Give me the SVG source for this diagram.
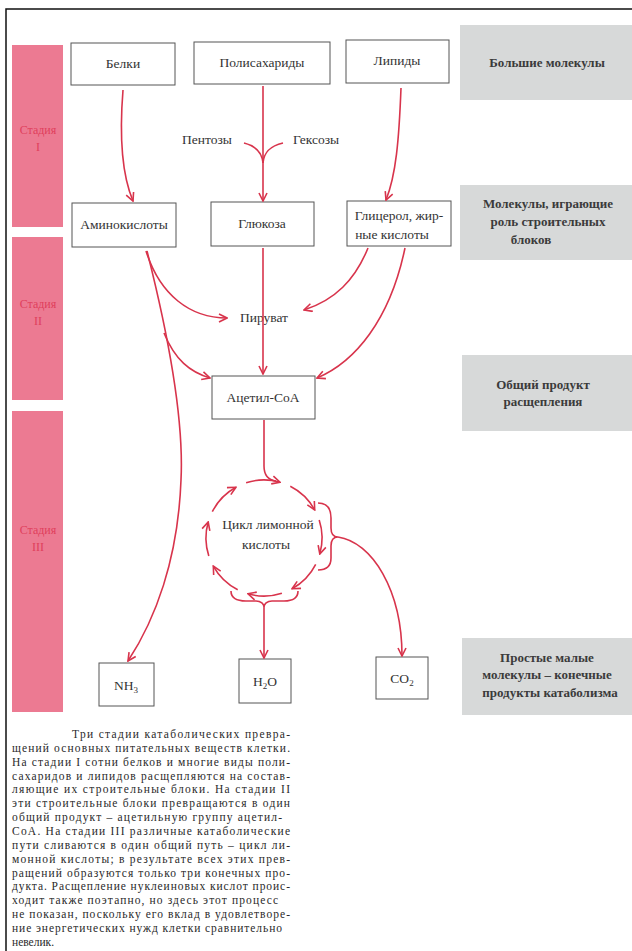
<svg xmlns="http://www.w3.org/2000/svg" width="632" height="951" viewBox="0 0 632 951">
<style>
.box{fill:#fff;stroke:#555;stroke-width:1}
.lbl{font-family:"Liberation Serif","DejaVu Serif",serif;font-size:13.5px;fill:#333;text-anchor:middle}
.sub{font-size:9px}
.pnl{fill:#d7d9d9}
.ptx{font-family:"Liberation Serif","DejaVu Serif",serif;font-size:13px;font-weight:bold;fill:#3b3b3b;text-anchor:middle}
.bar{fill:#ec7a92}
.btx{font-family:"Liberation Serif","DejaVu Serif",serif;font-size:12px;fill:#e0405c;text-anchor:middle}
.cn{fill:none;stroke:#d8344c;stroke-width:1.6}
.cap{font-family:"Liberation Serif","DejaVu Serif",serif;font-size:11.5px;fill:#2a2a2a}
</style>
<defs>
<marker id="ah" viewBox="0 0 10 10" refX="9" refY="5" markerWidth="10" markerHeight="10" markerUnits="userSpaceOnUse" orient="auto">
<path d="M1,1 L9,5 L1,9" fill="none" stroke="#d8344c" stroke-width="1.6"/>
</marker>
</defs>
<rect x="0" y="0" width="632" height="951" fill="#fff"/>
<path d="M6,951 L6,9 L632,9" fill="none" stroke="#111" stroke-width="1.5"/>

<g id="stage1"><rect class="bar" x="12" y="45" width="51" height="182"/><text class="btx" x="38" y="134">Стадия</text><text class="btx" x="38" y="151">I</text></g>
<g id="stage2"><rect class="bar" x="12" y="237" width="51" height="163"/><text class="btx" x="38" y="308">Стадия</text><text class="btx" x="38" y="325">II</text></g>
<g id="stage3"><rect class="bar" x="12" y="411" width="51" height="301"/><text class="btx" x="38" y="534">Стадия</text><text class="btx" x="38" y="551">III</text></g>

<g id="panel1"><rect class="pnl" x="460" y="25" width="172" height="75"/><text class="ptx" x="547" y="67">Большие молекулы</text></g>
<g id="panel2"><rect class="pnl" x="460" y="185" width="172" height="75"/><text class="ptx" x="548" y="208">Молекулы, играющие</text><text class="ptx" x="548" y="226">роль строительных</text><text class="ptx" x="531" y="244">блоков</text></g>
<g id="panel3"><rect class="pnl" x="462" y="355" width="170" height="76"/><text class="ptx" x="543" y="389">Общий продукт</text><text class="ptx" x="543" y="406">расщепления</text></g>
<g id="panel4"><rect class="pnl" x="462" y="638" width="170" height="77"/><text class="ptx" x="547" y="662">Простые малые</text><text class="ptx" x="547" y="679">молекулы – конечные</text><text class="ptx" x="550" y="697">продукты катаболизма</text></g>

<g id="belki"><rect class="box" x="71" y="43" width="104" height="42"/><text class="lbl" x="123" y="68">Белки</text></g>
<g id="polysacch"><rect class="box" x="194" y="42" width="136" height="42"/><text class="lbl" x="262" y="67">Полисахариды</text></g>
<g id="lipidy"><rect class="box" x="346" y="40" width="103" height="43"/><text class="lbl" x="397" y="65">Липиды</text></g>
<g id="amino"><rect class="box" x="72" y="203" width="104" height="44"/><text class="lbl" x="124" y="229">Аминокислоты</text></g>
<g id="glucose"><rect class="box" x="211" y="202" width="103" height="44"/><text class="lbl" x="262" y="228">Глюкоза</text></g>
<g id="glycerol"><rect class="box" x="347" y="201" width="104" height="45"/><text class="lbl" x="399" y="220">Глицерол, жир-</text><text class="lbl" x="392" y="239">ные кислоты</text></g>
<g id="pentozy"><text class="lbl" x="207" y="144">Пентозы</text></g>
<g id="geksozy"><text class="lbl" x="316" y="144">Гексозы</text></g>
<g id="piruvat"><text class="lbl" x="264" y="322">Пируват</text></g>
<g id="acetyl"><rect class="box" x="212" y="376" width="103" height="43"/><text class="lbl" x="263" y="402">Ацетил-СоА</text></g>
<g id="cycle"><text class="lbl" x="268" y="529">Цикл лимонной</text><text class="lbl" x="266" y="549">кислоты</text></g>
<g id="nh3"><rect class="box" x="99" y="663" width="55" height="43"/><text class="lbl" x="126" y="690">NH<tspan class="sub" dy="3">3</tspan></text></g>
<g id="h2o"><rect class="box" x="239" y="659" width="52" height="44"/><text class="lbl" x="265" y="686">H<tspan class="sub" dy="3">2</tspan><tspan dy="-3">O</tspan></text></g>
<g id="co2"><rect class="box" x="376" y="657" width="52" height="42"/><text class="lbl" x="402" y="683">CO<tspan class="sub" dy="3">2</tspan></text></g>

<g id="connectors">
<path class="cn" d="M123,90 C119,140 122,175 133,201" marker-end="url(#ah)"/>
<path class="cn" d="M263,86 L263,201" marker-end="url(#ah)"/>
<path class="cn" d="M244,143 C256,146 262,152 263,163"/>
<path class="cn" d="M283,143 C270,146 264,152 263,163"/>
<path class="cn" d="M401,88 C399,140 396,175 386,200" marker-end="url(#ah)"/>
<path class="cn" d="M146,251 C160,295 190,318 227,318" marker-end="url(#ah)"/>
<path class="cn" d="M147,251 C167,330 184,420 181,480 C178,560 155,620 128,661" marker-end="url(#ah)"/>
<path class="cn" d="M164,333 C175,360 190,372 210,378" marker-end="url(#ah)"/>
<path class="cn" d="M263,248 L263,374" marker-end="url(#ah)"/>
<path class="cn" d="M368,248 C355,280 335,300 304,310" marker-end="url(#ah)"/>
<path class="cn" d="M405,248 C390,320 355,362 317,378" marker-end="url(#ah)"/>
<path class="cn" d="M264,420 L264,466 C264,475 268,480 276,481"/>
<path class="cn" d="M246.1,482.8 A58,58 0 0 1 280.0,482.2" marker-end="url(#ah)"/>
<path class="cn" d="M290.3,486.3 A58,58 0 0 1 314.7,509.9" marker-end="url(#ah)"/>
<path class="cn" d="M319.2,520.1 A58,58 0 0 1 319.8,554.0" marker-end="url(#ah)"/>
<path class="cn" d="M315.7,564.3 A58,58 0 0 1 292.1,588.7" marker-end="url(#ah)"/>
<path class="cn" d="M281.9,593.2 A58,58 0 0 1 248.0,593.8" marker-end="url(#ah)"/>
<path class="cn" d="M237.7,589.7 A58,58 0 0 1 213.3,566.1" marker-end="url(#ah)"/>
<path class="cn" d="M208.8,555.9 A58,58 0 0 1 208.2,522.0" marker-end="url(#ah)"/>
<path class="cn" d="M212.3,511.7 A58,58 0 0 1 235.9,487.3" marker-end="url(#ah)"/>
<path class="cn" d="M318,503 C327,503 331,508 331,518 L331,528 C331,534 334,537 338,537 C334,537 331,540 331,546 L331,558 C331,566 327,570 318,570"/>
<path class="cn" d="M338,537 C372,542 402,590 402,656" marker-end="url(#ah)"/>
<path class="cn" d="M231,591 C231,598 236,601 246,601 L256,601 C261,601 264,604 264,607 C264,604 267,601 272,601 L284,601 C293,601 298,598 298,591"/>
<path class="cn" d="M264,607 L264,658" marker-end="url(#ah)"/>
</g>

<g id="caption">
<text class="cap" x="72" y="738" textLength="218" lengthAdjust="spacing">Три стадии катаболических превра-</text>
<text class="cap" x="12" y="752" textLength="278" lengthAdjust="spacing">щений основных питательных веществ клетки.</text>
<text class="cap" x="12" y="766" textLength="278" lengthAdjust="spacing">На стадии I сотни белков и многие виды поли-</text>
<text class="cap" x="12" y="780" textLength="278" lengthAdjust="spacing">сахаридов и липидов расщепляются на состав-</text>
<text class="cap" x="12" y="793" textLength="278" lengthAdjust="spacing">ляющие их строительные блоки. На стадии II</text>
<text class="cap" x="12" y="807" textLength="278" lengthAdjust="spacing">эти строительные блоки превращаются в один</text>
<text class="cap" x="12" y="821" textLength="270" lengthAdjust="spacing">общий продукт – ацетильную группу ацетил-</text>
<text class="cap" x="12" y="835" textLength="278" lengthAdjust="spacing">СоА. На стадии III различные катаболические</text>
<text class="cap" x="12" y="849" textLength="278" lengthAdjust="spacing">пути сливаются в один общий путь – цикл ли-</text>
<text class="cap" x="12" y="863" textLength="278" lengthAdjust="spacing">монной кислоты; в результате всех этих прев-</text>
<text class="cap" x="12" y="877" textLength="278" lengthAdjust="spacing">ращений образуются только три конечных про-</text>
<text class="cap" x="12" y="890" textLength="278" lengthAdjust="spacing">дукта. Расщепление нуклеиновых кислот проис-</text>
<text class="cap" x="12" y="904" textLength="266" lengthAdjust="spacing">ходит также поэтапно, но здесь этот процесс</text>
<text class="cap" x="12" y="918" textLength="278" lengthAdjust="spacing">не показан, поскольку его вклад в удовлетворе-</text>
<text class="cap" x="12" y="932" textLength="270" lengthAdjust="spacing">ние энергетических нужд клетки сравнительно</text>
<text class="cap" x="12" y="946">невелик.</text>
</g>
</svg>
